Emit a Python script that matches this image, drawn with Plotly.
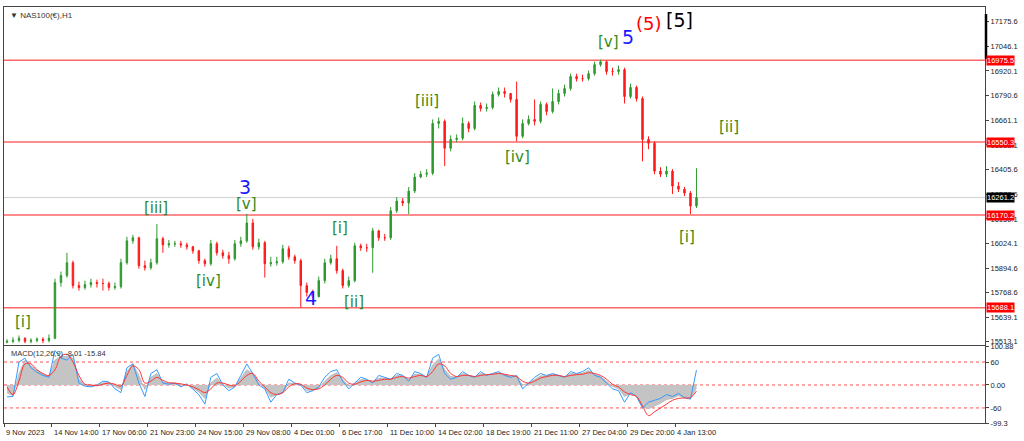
import plotly.graph_objects as go
from plotly.subplots import make_subplots

# ---------------- data ----------------
x_tick_labels = ["9 Nov 2023", "14 Nov 14:00", "17 Nov 06:00", "21 Nov 23:00", "24 Nov 15:00",
                 "29 Nov 08:00", "4 Dec 01:00", "6 Dec 17:00", "11 Dec 10:00", "14 Dec 02:00",
                 "18 Dec 19:00", "21 Dec 11:00", "27 Dec 04:00", "29 Dec 20:00", "4 Jan 13:00"]
x_tick_bars = [0, 64, 128, 192, 256, 320, 384, 448, 512, 576, 640, 704, 768, 832, 896]  # H1 bar index

first_open = 15508
close = [15513, 15518, 15529, 15513, 15518, 15524, 15518, 15529, 15819, 15855,
         15922, 15803, 15793, 15808, 15819, 15814, 15814, 15793, 15798, 15922,
         16036, 16052, 15907, 15896, 15922, 16047, 16015, 16021, 16021, 16015,
         16005, 15984, 15933, 15917, 16021, 15974, 15959, 15943, 16021, 16036,
         16129, 16005, 16026, 15917, 15922, 15927, 15995, 15953, 15933, 15803,
         15767, 15746, 15829, 15922, 15943, 15881, 15803, 15829, 16010, 16000,
         16000, 16088, 16052, 16052, 16192, 16243, 16233, 16295, 16368, 16383,
         16388, 16647, 16658, 16518, 16564, 16570, 16647, 16621, 16741, 16725,
         16730, 16798, 16813, 16803, 16772, 16580, 16647, 16668, 16658, 16746,
         16709, 16761, 16803, 16829, 16891, 16880, 16880, 16906, 16953, 16968,
         16917, 16917, 16927, 16787, 16834, 16777, 16564, 16544, 16399, 16383,
         16399, 16321, 16305, 16285, 16217, 16261.2]
high = [15524, 15534, 15544, 15534, 15529, 15534, 15534, 15549, 15839, 15876,
        15974, 15933, 15824, 15829, 15839, 15834, 15839, 15824, 15819, 15943,
        16057, 16067, 16057, 15933, 15943, 16124, 16057, 16041, 16036, 16036,
        16026, 16010, 15990, 15943, 16041, 16031, 15990, 15979, 16041, 16057,
        16176, 16150, 16047, 16036, 15953, 15953, 16015, 16010, 15964, 15943,
        15819, 15782, 15850, 15943, 15964, 16010, 15891, 15850, 16026, 16021,
        16021, 16104, 16093, 16072, 16212, 16264, 16259, 16316, 16388, 16399,
        16409, 16668, 16678, 16668, 16585, 16590, 16678, 16658, 16761, 16756,
        16751, 16813, 16834, 16834, 16803, 16865, 16668, 16689, 16772, 16761,
        16756, 16829, 16823, 16849, 16906, 16906, 16901, 16922, 16968, 16979,
        16974, 16937, 16948, 16937, 16854, 16844, 16787, 16580, 16554, 16419,
        16425, 16409, 16342, 16316, 16295, 16414]
low = [15503, 15503, 15508, 15503, 15503, 15508, 15503, 15508, 15524, 15798,
       15845, 15788, 15777, 15782, 15793, 15793, 15777, 15777, 15782, 15788,
       15912, 16021, 15891, 15881, 15886, 15912, 15974, 16000, 16005, 16000,
       15990, 15969, 15917, 15902, 15907, 15959, 15943, 15917, 15933, 16005,
       16026, 15990, 15990, 15845, 15902, 15907, 15917, 15938, 15917, 15689,
       15746, 15736, 15741, 15814, 15912, 15865, 15788, 15793, 15819, 15984,
       15979, 15870, 16036, 16036, 16041, 16181, 16217, 16176, 16285, 16362,
       16368, 16378, 16621, 16425, 16502, 16549, 16559, 16601, 16611, 16709,
       16709, 16720, 16787, 16782, 16756, 16554, 16570, 16637, 16637, 16647,
       16689, 16699, 16746, 16787, 16818, 16865, 16865, 16870, 16896, 16943,
       16901, 16896, 16901, 16751, 16777, 16761, 16450, 16513, 16383, 16368,
       16368, 16280, 16290, 16269, 16176, 16207]

price_ticks = [15513.1, 15639.1, 15768.6, 15894.6, 16024.1, 16150.1, 16279.6, 16405.6,
               16535.1, 16661.1, 16790.6, 16920.1, 17046.1, 17175.6]
levels = [16975.5, 16550.3, 16170.2, 15688.1]
last_price = 16261.2
shift_marker = [16984, 17217]  # black bar on the price scale

macd_hist = [-20, -28, 30, 65, 50, 38, 28, 22, 65, 75,
             75, 70, 15, 0, -3, -1, 6, 6, -4, -12,
             35, 55, 25, -12, 20, 30, 8, 4, 5, -1,
             2, -8, -18, -35, 5, 18, 2, -8, -4, 18,
             40, 30, 5, -8, -32, -25, -20, 5, 4, 1,
             -14, -14, -8, 10, 25, 32, 15, -3, 4, 14,
             14, 8, 18, 18, 15, 25, 24, 14, 28, 28,
             21, 52, 68, 40, 22, 21, 30, 25, 21, 30,
             26, 29, 32, 27, 22, 23, 0, 5, 15, 24,
             24, 28, 25, 21, 30, 29, 31, 38, 28, 22,
             10, -4, -10, -30, -22, -30, -58, -62, -55, -48,
             -38, -35, -28, -33, -35, -8]
macd_fast = [-31, -30, 60, 70, 45, 33, 25, 20, 90, 70,
             65, 80, 5, -3, -5, 0, 10, 8, -10, -20,
             45, 55, 5, -30, 30, 40, 5, 2, 5, -5,
             3, -10, -25, -50, 20, 30, 0, -15, -5, 25,
             55, 30, 0, -10, -45, -25, -20, 15, 5, 0,
             -20, -15, -5, 20, 35, 40, 10, -10, 5, 20,
             15, 5, 25, 20, 15, 30, 25, 10, 35, 30,
             20, 70, 80, 30, 15, 20, 35, 25, 20, 35,
             25, 30, 35, 25, 20, 25, -10, 5, 20, 30,
             25, 30, 25, 20, 35, 30, 35, 45, 25, 20,
             5, -10, -15, -45, -20, -30, -60, -45, -40, -35,
             -25, -30, -22, -33, -37, 39]
macd_signal = [-5, -25, 10, 55, 55, 40, 30, 25, 40, 75,
               80, 60, 25, 2, 0, -2, 2, 5, 2, -3,
               25, 50, 40, 5, 10, 20, 12, 6, 5, 3,
               0, -5, -12, -20, -10, 5, 5, 0, -2, 10,
               25, 30, 10, -5, -20, -25, -20, -5, 3, 2,
               -8, -12, -10, 0, 15, 25, 20, 5, 2, 8,
               12, 10, 12, 15, 15, 20, 22, 18, 22, 25,
               22, 35, 55, 50, 30, 22, 25, 25, 22, 25,
               27, 28, 30, 28, 25, 22, 10, 5, 10, 18,
               22, 25, 25, 22, 25, 27, 28, 32, 30, 25,
               15, 2, -5, -18, -25, -30, -55, -80, -70, -60,
               -50, -40, -35, -34, -33, -15.84]
macd_levels = [60, 0, -60]
macd_ticks = [100.88, 60, 0, -60, -99.3]
macd_tick_text = ["100.88", "60", "0.00", "-60", "-99.3"]

# Elliott wave labels: (text, bar index, price, colour, size)
wave_labels = [
    ("[i]", 25, 15612, "#348a1c", 15),
    ("[iii]", 203, 16207, "#348a1c", 15),
    ("[iv]", 273, 15829, "#348a1c", 15),
    ("[v]", 324, 16228, "#348a1c", 15),
    ("3", 321, 16316, "#1a1aff", 19),
    ("4", 409, 15738, "#1a1aff", 19),
    ("[i]", 448, 16104, "#348a1c", 15),
    ("[ii]", 467, 15720, "#348a1c", 15),
    ("[iii]", 565, 16766, "#348a1c", 15),
    ("[iv]", 685, 16471, "#348a1c", 15),
    ("[v]", 807, 17072, "#348a1c", 15),
    ("5", 832, 17098, "#1a1aff", 19),
    ("(5)", 861, 17165, "#ff0000", 18),
    ("[5]", 901, 17186, "#000000", 19),
    ("[ii]", 967, 16627, "#348a1c", 15),
    ("[i]", 911, 16057, "#348a1c", 15),
]

# ---------------- figure ----------------
bars = list(range(4, 4 + 8 * len(close), 8))  # each candle = 8 H1 bars
opens = [first_open] + close[:-1]

fig = make_subplots(rows=2, cols=1, shared_xaxes=True, vertical_spacing=0.002)

fig.add_trace(go.Candlestick(
    x=bars, open=opens, high=high, low=low, close=close,
    increasing=dict(line=dict(color="#2e9a2e", width=1), fillcolor="#2e9a2e"),
    decreasing=dict(line=dict(color="#ff1a1a", width=1), fillcolor="#ff1a1a"),
    whiskerwidth=0, showlegend=False, hoverinfo="skip"), row=1, col=1)

fig.add_trace(go.Scatter(x=bars, y=macd_hist, mode="lines", fill="tozeroy",
                         line=dict(color="#a8a8a8", width=0.6), fillcolor="#c4c4c4",
                         showlegend=False, hoverinfo="skip"), row=2, col=1)
fig.add_trace(go.Scatter(x=bars, y=macd_fast, mode="lines",
                         line=dict(color="#3399ff", width=1), showlegend=False,
                         hoverinfo="skip"), row=2, col=1)
fig.add_trace(go.Scatter(x=bars, y=macd_signal, mode="lines", line_shape="spline",
                         line=dict(color="#ff3333", width=1), showlegend=False,
                         hoverinfo="skip"), row=2, col=1)

shapes = []
for lv in levels:
    shapes.append(dict(type="line", xref="x domain", x0=0, x1=1, yref="y", y0=lv, y1=lv,
                       line=dict(color="#ff6666", width=1.5), layer="below"))
shapes.append(dict(type="line", xref="x domain", x0=0, x1=1, yref="y", y0=last_price,
                   y1=last_price, line=dict(color="#cfcfcf", width=1), layer="below"))
for lv in macd_levels:
    shapes.append(dict(type="line", xref="x2 domain", x0=0, x1=1, yref="y2", y0=lv, y1=lv,
                       line=dict(color="#ff5050", width=1, dash="dot"), layer="below"))
shapes.append(dict(type="line", xref="paper", xsizemode="pixel", xanchor=1, x0=1, x1=1,
                   yref="y", y0=shift_marker[0], y1=shift_marker[1],
                   line=dict(color="#000000", width=2.5)))

annotations = []
for lv in levels:
    annotations.append(dict(xref="paper", x=1, xanchor="left", xshift=1, yref="y", y=lv,
                            text=f"{lv:.1f}", showarrow=False, bgcolor="#ff0000",
                            font=dict(family="Liberation Sans", size=7.5, color="white"),
                            borderpad=0))
annotations.append(dict(xref="paper", x=1, xanchor="left", xshift=1, yref="y", y=last_price,
                        text=f"{last_price:.1f}", showarrow=False, bgcolor="#000000",
                        font=dict(family="Liberation Sans", size=7.5, color="white"),
                        borderpad=0))
for txt, b, p, col, sz in wave_labels:
    annotations.append(dict(x=b, y=p, xref="x", yref="y", text=txt, showarrow=False,
                            font=dict(family="DejaVu Sans", size=sz, color=col)))
for lab, b in zip(x_tick_labels, x_tick_bars):
    annotations.append(dict(x=b, xref="x2", xanchor="left", xshift=0, y=0, yref="paper",
                            yanchor="top", yshift=-3, text=lab, showarrow=False,
                            font=dict(family="Liberation Sans", size=7.5, color="#222")))
annotations.append(dict(xref="paper", x=0, xanchor="left", xshift=4, yref="paper", y=1,
                        yanchor="top", yshift=-2, text="▼ NAS100(€),H1", showarrow=False,
                        font=dict(family="Liberation Sans", size=8, color="#333")))
annotations.append(dict(xref="paper", x=0, xanchor="left", xshift=5, yref="y2 domain", y=1,
                        yanchor="top", yshift=-1, text="MACD(12,26,9) -8.01 -15.84",
                        showarrow=False,
                        font=dict(family="Liberation Sans", size=7.5, color="#333")))

axis_common = dict(showgrid=False, zeroline=False, showline=True, linecolor="#444",
                   linewidth=1, mirror=True)

fig.update_layout(
    width=1024, height=441,
    margin=dict(l=3, r=39, t=5, b=18),
    paper_bgcolor="white", plot_bgcolor="white",
    boxgap=0.65,
    shapes=shapes, annotations=annotations,
    xaxis=dict(range=[0, 1309], showticklabels=False, ticks="", rangeslider=dict(visible=False),
               **axis_common),
    xaxis2=dict(range=[0, 1309], tickvals=x_tick_bars, showticklabels=False, ticks="outside",
                ticklen=3, tickcolor="#444", **axis_common),
    yaxis=dict(domain=[0.1866, 1], range=[15492, 17253], side="right",
               tickvals=price_ticks, ticktext=[f"{v:.1f}" for v in price_ticks],
               ticks="outside", ticklen=3, tickcolor="#444",
               tickfont=dict(family="Liberation Sans", size=7.5, color="#222"), **axis_common),
    yaxis2=dict(domain=[0, 0.1842], range=[-99.3, 100.88], side="right",
                tickvals=macd_ticks, ticktext=macd_tick_text, ticks="outside", ticklen=3,
                tickcolor="#444",
                tickfont=dict(family="Liberation Sans", size=7.5, color="#222"), **axis_common),
)

fig.write_html("out.html", config={"displayModeBar": False},
               post_script="document.body.style.margin='0';document.body.style.overflow='hidden';")
